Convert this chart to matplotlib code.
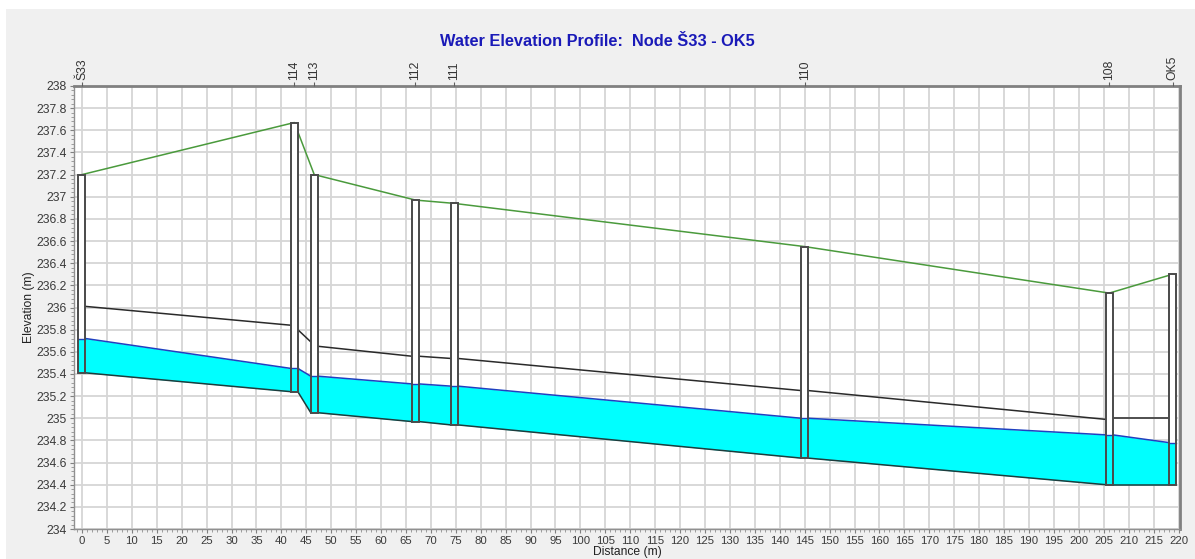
import matplotlib
matplotlib.use("Agg")
import matplotlib.pyplot as plt
from matplotlib.patches import Rectangle
from matplotlib.ticker import MultipleLocator, FuncFormatter

plt.rcParams["font.family"] = ["Liberation Sans", "DejaVu Sans"]

# node data (distance along profile, rim elevation, invert, water level)
nodes = ["Š33", "114", "113", "112", "111", "110", "108", "OK5"]
node_x = [0, 42.6, 46.6, 66.9, 74.7, 145.0, 206.1, 218.8]
node_rim = [237.2, 237.67, 237.2, 236.97, 236.94, 236.55, 236.13, 236.3]
node_invert = [235.41, 235.24, 235.05, 234.97, 234.94, 234.64, 234.40, 234.40]
node_water = [235.72, 235.45, 235.38, 235.31, 235.29, 235.00, 234.85, 234.78]

# pipe data, one entry per link node[i] -> node[i+1]
up_invert = [235.41, 235.24, 235.05, 234.97, 234.94, 234.64, 234.40]
dn_invert = [235.24, 235.05, 234.97, 234.94, 234.64, 234.40, 234.40]
up_crown = [236.01, 235.80, 235.65, 235.56, 235.54, 235.25, 235.00]
dn_crown = [235.84, 235.69, 235.56, 235.54, 235.25, 234.99, 235.00]
up_water = [235.72, 235.45, 235.38, 235.31, 235.29, 235.00, 234.85]
dn_water = [235.45, 235.38, 235.31, 235.29, 235.00, 234.85, 234.78]

MH_W = 1.4  # manhole drawing width in metres
CYAN = "#00ffff"

fig = plt.figure(figsize=(11.95, 5.59), dpi=100, facecolor="#f0f0f0")
# white strips at the top/left edge of the screenshot
fig.patches.append(Rectangle((0, 1 - 9 / 559), 1, 9 / 559, transform=fig.transFigure,
                             facecolor="white", edgecolor="none"))
fig.patches.append(Rectangle((0, 0), 6 / 1195, 1, transform=fig.transFigure,
                             facecolor="white", edgecolor="none"))

ax = fig.add_axes([74 / 1195, 1 - 529 / 559, (1180 - 74) / 1195, (529 - 86) / 559])
ax.set_facecolor("white")
ax.set_xlim(-1.6, 220.3)
ax.set_ylim(234, 238)

# pipes
for i in range(len(up_invert)):
    x0 = node_x[i] + MH_W / 2
    x1 = node_x[i + 1] - MH_W / 2
    ax.fill_between([x0, x1], [up_invert[i], dn_invert[i]], [up_water[i], dn_water[i]],
                    color=CYAN, linewidth=0, zorder=2)
    ax.plot([x0, x1], [up_water[i], dn_water[i]], color="#2040c0", lw=1.1, zorder=3)
    ax.plot([x0, x1], [up_invert[i], dn_invert[i]], color="#1e3c3c", lw=1.1, zorder=3)
    ax.plot([x0, x1], [up_crown[i], dn_crown[i]], color="#2a2a2a", lw=1.1, zorder=3)

# ground line
ax.plot(node_x, node_rim, color="#4a9a3c", lw=1.1, zorder=3)

# manholes
for x, rim, inv, wl in zip(node_x, node_rim, node_invert, node_water):
    ax.add_patch(Rectangle((x - MH_W / 2, inv), MH_W, rim - inv, facecolor="white",
                           edgecolor="none", zorder=4))
    ax.add_patch(Rectangle((x - MH_W / 2, inv), MH_W, wl - inv, facecolor=CYAN,
                           edgecolor="none", zorder=4))
    ax.plot([x - MH_W / 2, x + MH_W / 2], [wl, wl], color="#2040c0", lw=1, zorder=5)
    ax.add_patch(Rectangle((x - MH_W / 2, inv), MH_W, rim - inv, facecolor="none",
                           edgecolor="#4a4a4a", lw=1.4, zorder=6))

# axes styling
ax.xaxis.set_major_locator(MultipleLocator(5))
ax.xaxis.set_minor_locator(MultipleLocator(1))
ax.yaxis.set_major_locator(MultipleLocator(0.2))
ax.yaxis.set_minor_locator(MultipleLocator(0.04))
ax.yaxis.set_major_formatter(FuncFormatter(lambda v, p: f"{round(v, 1):g}"))
ax.grid(True, which="major", color="#d6d6d6", lw=1.3, zorder=0)
ax.set_axisbelow(True)
ax.tick_params(which="major", length=3, labelsize=8.7, color="#808080", labelcolor="#3a3a3a",
               pad=2)
ax.tick_params(axis="x", which="major", labelsize=8.2)
ax.tick_params(which="minor", length=2, color="#909090")
for s in ["left", "bottom"]:
    ax.spines[s].set_color("#909090")
    ax.spines[s].set_linewidth(1)
for s in ["top", "right"]:
    ax.spines[s].set_color("#808080")
    ax.spines[s].set_linewidth(2)
ax.set_xlabel("Distance (m)", fontsize=8.7, color="#222222", labelpad=0)
ax.set_ylabel("Elevation (m)", fontsize=8.7, color="#222222", labelpad=1)

# node names on top
ax2 = ax.twiny()
ax2.set_xlim(ax.get_xlim())
ax2.set_xticks(node_x)
ax2.set_xticklabels(nodes, rotation=90, fontsize=8.7, color="#333333")
ax2.tick_params(length=3, color="#606060", pad=1)
for s in ax2.spines.values():
    s.set_visible(False)

fig.text(0.5, 1 - 42 / 559, "Water Elevation Profile:  Node Š33 - OK5", ha="center",
         va="center", fontsize=11.8, fontweight="bold", color="#1a1ab8")

fig.savefig("out.png", dpi=100, facecolor=fig.get_facecolor())
